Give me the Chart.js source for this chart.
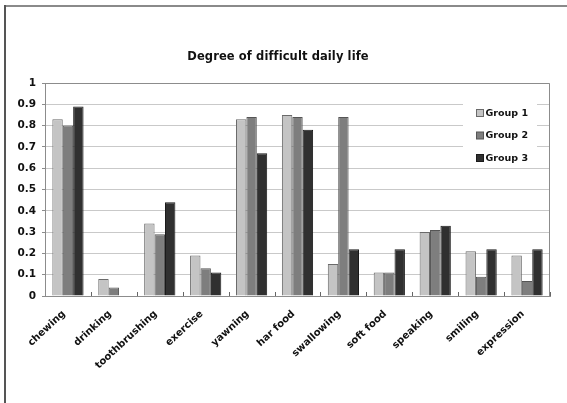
<!DOCTYPE html>
<html>
<head>
<meta charset="utf-8">
<script src="https://cdn.jsdelivr.net/npm/chart.js@4/dist/chart.umd.min.js"></script>
<style>
  html, body { margin: 0; padding: 0; background: #fff; }
  #wrap { width: 567px; height: 403px; position: relative; }
</style>
</head>
<body>
<div id="wrap"><canvas id="c" width="567" height="403"></canvas></div>
<script>
const categories = ['chewing', 'drinking', 'toothbrushing', 'exercise', 'yawning', 'har food',
  'swallowing', 'soft food', 'speaking', 'smiling', 'expression'];
const group1 = [0.83, 0.08, 0.34, 0.19, 0.83, 0.85, 0.15, 0.11, 0.30, 0.21, 0.19];
const group2 = [0.80, 0.04, 0.29, 0.13, 0.84, 0.84, 0.84, 0.11, 0.31, 0.09, 0.07];
const group3 = [0.89, 0.00, 0.44, 0.11, 0.67, 0.78, 0.22, 0.22, 0.33, 0.22, 0.22];
const seriesNames = ['Group 1', 'Group 2', 'Group 3'];
const yTicks = [0, 0.1, 0.2, 0.3, 0.4, 0.5, 0.6, 0.7, 0.8, 0.9, 1];
const chartTitle = 'Degree of difficult daily life';

const FONT = '"DejaVu Sans", "Liberation Sans", sans-serif';
const fills = ['#c4c4c4', '#7e7e7e', '#303030'];
const edges = ['#6a6a6a', '#555555', '#1a1a1a'];

// Outer frame, title, inner tick marks, plot border and in-plot legend
const decor = {
  id: 'decor',
  beforeDraw(chart) {
    const ctx = chart.ctx;
    ctx.save();
    ctx.fillStyle = '#fff';
    ctx.fillRect(0, 0, chart.width, chart.height);
    ctx.fillStyle = '#8a8a8a';
    ctx.fillRect(4, 5, chart.width - 4, 2);
    ctx.fillStyle = '#555';
    ctx.fillRect(4, 5, 2, chart.height - 5);
    ctx.fillStyle = '#111';
    ctx.font = 'bold 11.5px ' + FONT;
    if ('letterSpacing' in ctx) ctx.letterSpacing = '0.1px'; // keeps "ffi" as separate letters
    ctx.textAlign = 'center';
    ctx.textBaseline = 'middle';
    ctx.fillText(chartTitle, 278, 57);
    ctx.restore();
  },
  afterDatasetsDraw(chart) {
    const ctx = chart.ctx;
    const a = chart.chartArea;
    const xs = chart.scales.x;
    ctx.save();
    ctx.strokeStyle = '#8c8c8c';
    ctx.lineWidth = 1;
    ctx.beginPath();
    ctx.moveTo(a.left + 0.5, a.top + 0.5);
    ctx.lineTo(a.right - 0.5, a.top + 0.5);
    ctx.lineTo(a.right - 0.5, a.bottom);
    ctx.stroke();
    // small upward ticks at category boundaries
    const half = (xs.getPixelForTick(1) - xs.getPixelForTick(0)) / 2;
    ctx.strokeStyle = '#666';
    ctx.beginPath();
    for (let i = 0; i < categories.length; i++) {
      const px = Math.round(xs.getPixelForTick(i) + half) + 0.5;
      ctx.moveTo(px, a.bottom);
      ctx.lineTo(px, a.bottom - 4);
    }
    ctx.stroke();
    ctx.restore();
  },
  afterDraw(chart) {
    const ctx = chart.ctx;
    ctx.save();
    ctx.fillStyle = '#fff';
    ctx.fillRect(463, 100, 74, 68);
    ctx.font = 'bold 9.5px ' + FONT;
    ctx.textAlign = 'left';
    ctx.textBaseline = 'middle';
    chart.data.datasets.forEach((ds, i) => {
      const cy = 113 + i * 22.5;
      ctx.fillStyle = ds.backgroundColor;
      ctx.fillRect(476.5, cy - 3.5, 7, 7);
      ctx.strokeStyle = ds.borderColor;
      ctx.lineWidth = 1;
      ctx.strokeRect(476.5, cy - 3.5, 7, 7);
      ctx.fillStyle = '#111';
      ctx.fillText(ds.label, 485.5, cy + 0.5);
    });
    ctx.restore();
  }
};

new Chart(document.getElementById('c'), {
  type: 'bar',
  data: {
    labels: categories,
    datasets: [group1, group2, group3].map((vals, i) => ({
      label: seriesNames[i],
      data: vals,
      backgroundColor: fills[i],
      borderColor: edges[i],
      borderWidth: 1,
      categoryPercentage: 0.68,
      barPercentage: 1.0
    }))
  },
  options: {
    responsive: false,
    animation: false,
    devicePixelRatio: 1,
    layout: { padding: { left: 5, right: 17, top: 83, bottom: 0 } },
    plugins: {
      legend: { display: false },
      title: { display: false },
      tooltip: { enabled: false }
    },
    scales: {
      x: {
        offset: true,
        grid: { display: false },
        border: { display: true, color: '#8c8c8c', width: 1 },
        ticks: {
          minRotation: 43, maxRotation: 43,
          autoSkip: false,
          padding: 4,
          labelOffset: -4,
          color: '#111',
          font: { family: FONT, size: 10, weight: 'bold' }
        },
        afterFit(scale) { scale.height = 107; }
      },
      y: {
        min: 0, max: 1,
        afterBuildTicks(scale) { scale.ticks = yTicks.map(v => ({ value: v })); },
        grid: { color: '#c9c9c9', tickLength: 3, tickColor: '#8c8c8c' },
        border: { display: true, color: '#8c8c8c', width: 1 },
        ticks: {
          padding: 6,
          color: '#111',
          font: { family: FONT, size: 10.5, weight: 'bold' },
          callback: v => String(Math.round(v * 10) / 10)
        },
        afterFit(scale) { scale.width = 40; }
      }
    }
  },
  plugins: [decor]
});
</script>
</body>
</html>
